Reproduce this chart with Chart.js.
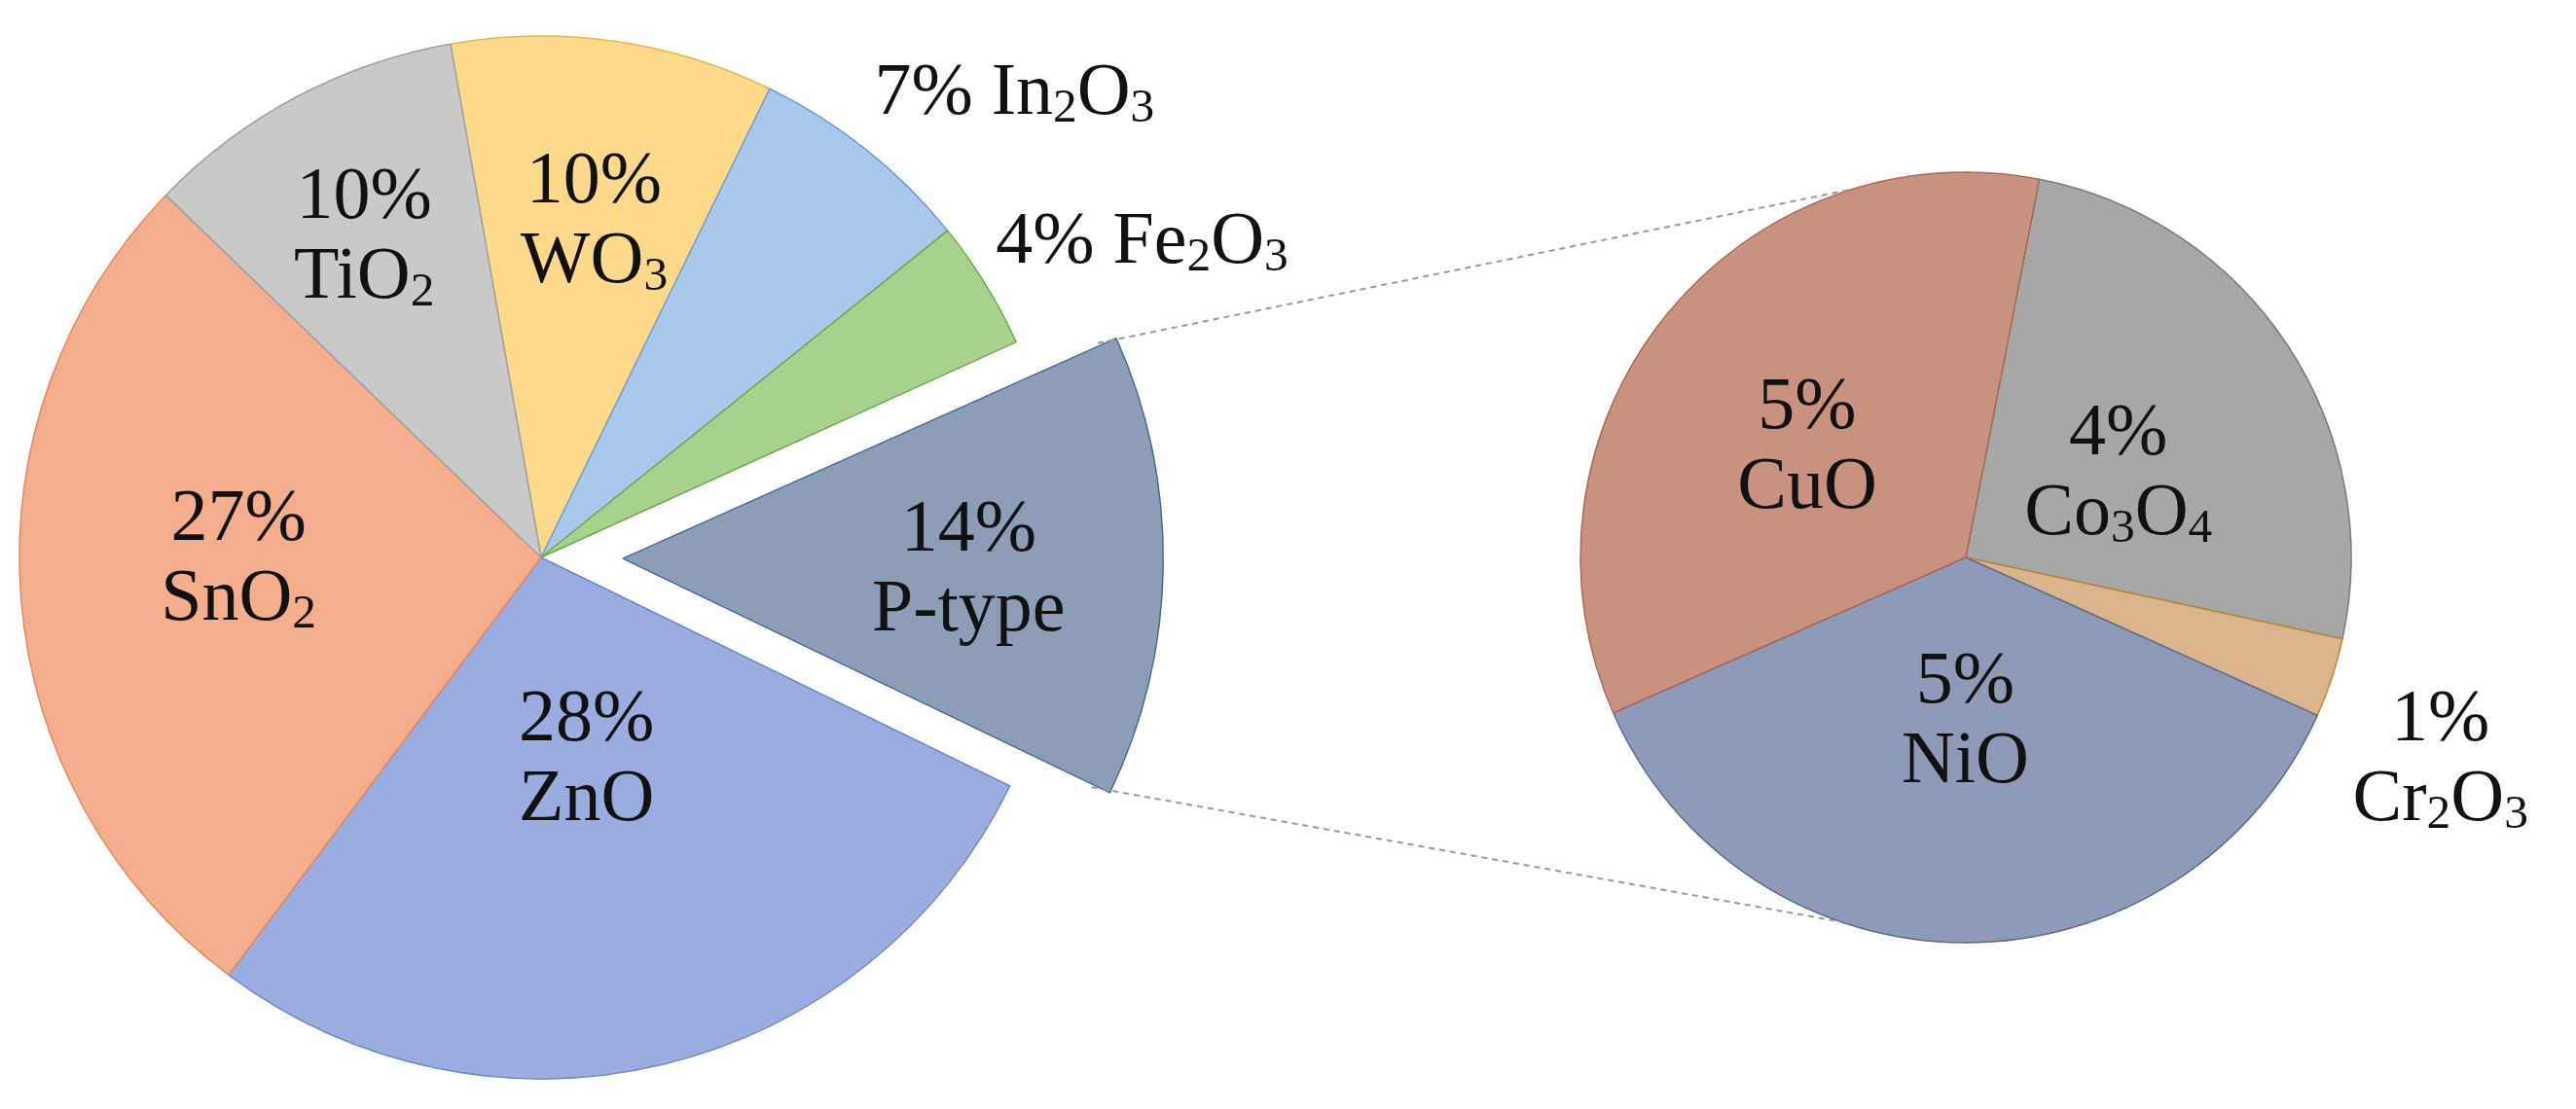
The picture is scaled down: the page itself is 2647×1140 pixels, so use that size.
<!DOCTYPE html>
<html>
<head>
<meta charset="utf-8">
<script src="https://cdn.jsdelivr.net/npm/chart.js@4/dist/chart.umd.min.js"></script>
<style>
  body { margin: 0; background: #fff; width: 2647px; height: 1140px; overflow: hidden; position: relative; }
  canvas { position: absolute; }
  #overlay { left: 0; top: 0; pointer-events: none; }
</style>
</head>
<body>
<canvas id="mainPie" width="1500" height="1500" style="left:-194px;top:-177px"></canvas>
<canvas id="subPie" width="900" height="900" style="left:1570px;top:123px"></canvas>
<canvas id="overlay" width="2647" height="1140"></canvas>
<script>
// main pie, clockwise from top
const mainLabels = [['10%', 'WO_3'], ['7% In_2O_3'], ['4% Fe_2O_3'], ['14%', 'P-type'], ['28%', 'ZnO'], ['27%', 'SnO_2'], ['10%', 'TiO_2']];
const mainValues = [10, 7, 4, 14, 28, 27, 10];
const mainColors = ['#fdd98b', '#a9c8ec', '#a9d18e', '#8d9db8', '#9bade0', '#f4ae8e', '#c9c9c9'];
const mainBorders = ['#e0b84a', '#6f9bd1', '#6fa84d', '#4a6a90', '#7088c8', '#e08860', '#a0a0a0'];
// label distance (fraction of radius) and angle nudge (degrees)
const mainLabelPos = [[0.65, 1], [1.27, 7], [1.3, 4], [0.82, 1], [0.4, 1], [0.58, 4], [0.7, -1]];

// breakdown of P-type, clockwise from top
const subLabels = [['4%', 'Co_3O_4'], ['1%', 'Cr_2O_3'], ['5%', 'NiO'], ['5%', 'CuO']];
const subValues = [3.8, 0.5, 5.5, 5.2];
const subColors = ['#a7a7a7', '#d9b48c', '#8f99b8', '#c9917f'];
const subBorders = ['#7a7a7a', '#b88a30', '#5a6a90', '#a86a58'];
const subLabelPos = [[0.45, 5], [1.34, 5], [0.43, 0], [0.5, -4]];

const FONT = 'Liberation Serif, Times New Roman, serif';
const SIZE = 76;
const EXPLODE = 336; // chart.js draws a quarter of this

function drawRich(ctx, text, x, y) {
  const parts = text.split(/_(\d)/);
  const subSize = SIZE * 0.65;
  let width = 0;
  parts.forEach((p, i) => {
    ctx.font = (i % 2 ? subSize : SIZE) + 'px ' + FONT;
    width += ctx.measureText(p).width;
  });
  let cx = x - width / 2;
  parts.forEach((p, i) => {
    const sub = i % 2 === 1;
    ctx.font = (sub ? subSize : SIZE) + 'px ' + FONT;
    ctx.fillText(p, cx, y + (sub ? SIZE * 0.2 : 0));
    cx += ctx.measureText(p).width;
  });
}

function pieConfig(values, colors, borders, labels, rotation, radius, offsets) {
  return {
    type: 'pie',
    data: {
      labels: labels.map(l => l.join(' ')),
      datasets: [{
        data: values,
        backgroundColor: colors,
        borderColor: borders,
        borderWidth: 1.5,
        offset: offsets
      }]
    },
    options: {
      responsive: false,
      devicePixelRatio: 1,
      animation: false,
      rotation: rotation,
      radius: radius,
      layout: { padding: 0 },
      plugins: { legend: { display: false }, tooltip: { enabled: false } }
    }
  };
}

const mainChart = new Chart(document.getElementById('mainPie'),
  pieConfig(mainValues, mainColors, mainBorders, mainLabels, -10, 536, [0, 0, 0, EXPLODE, 0, 0, 0]));
const subChart = new Chart(document.getElementById('subPie'),
  pieConfig(subValues, subColors, subBorders, subLabels, 11, 396, 0));

const ov = document.getElementById('overlay').getContext('2d');

// labels, drawn on the overlay so they are not clipped
function drawLabels(chart, left, top, lbls, pos) {
  ov.save();
  ov.fillStyle = '#111';
  ov.textBaseline = 'middle';
  ov.textAlign = 'left';
  chart.getDatasetMeta(0).data.forEach((arc, i) => {
    const p = arc.getProps(['x', 'y', 'startAngle', 'endAngle', 'outerRadius']);
    const a = (p.startAngle + p.endAngle) / 2 + pos[i][1] * Math.PI / 180;
    const d = p.outerRadius * pos[i][0];
    const x = left + p.x + Math.cos(a) * d;
    const y = top + p.y + Math.sin(a) * d;
    const lines = lbls[i];
    lines.forEach((t, k) => drawRich(ov, t, x, y + (k - (lines.length - 1) / 2) * 82));
  });
  ov.restore();
}
drawLabels(mainChart, -194, -177, mainLabels, mainLabelPos);
drawLabels(subChart, 1570, 123, subLabels, subLabelPos);

// dashed connectors from the exploded slice to the breakdown pie
const pArc = mainChart.getDatasetMeta(0).data[3].getProps(['x', 'y', 'startAngle', 'endAngle', 'outerRadius']);
const mid = (pArc.startAngle + pArc.endAngle) / 2;
const mcx = -194 + pArc.x + Math.cos(mid) * EXPLODE / 4;
const mcy = -177 + pArc.y + Math.sin(mid) * EXPLODE / 4;
const sArc = subChart.getDatasetMeta(0).data[0].getProps(['x', 'y', 'outerRadius']);
const scx = 1570 + sArc.x, scy = 123 + sArc.y;
function pt(cx, cy, r, ang) { return [cx + Math.cos(ang) * r, cy + Math.sin(ang) * r]; }
const deg = Math.PI / 180;
const ends = [
  [pt(mcx, mcy, pArc.outerRadius, pArc.startAngle), pt(scx, scy, sArc.outerRadius, (-90 - 17) * deg)],
  [pt(mcx, mcy, pArc.outerRadius, pArc.endAngle), pt(scx, scy, sArc.outerRadius, (-90 + 199) * deg)]
];
ov.strokeStyle = '#999';
ov.lineWidth = 2;
ov.setLineDash([6, 5]);
ends.forEach(([a, b]) => {
  ov.beginPath();
  ov.moveTo(a[0], a[1]);
  ov.lineTo(b[0], b[1]);
  ov.stroke();
});
</script>
</body>
</html>
